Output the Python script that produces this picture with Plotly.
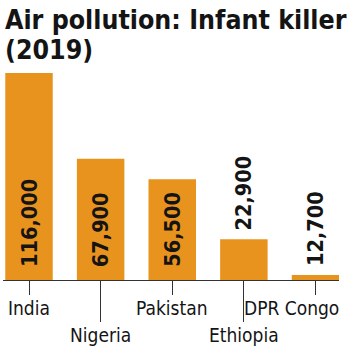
import plotly.graph_objects as go

# ---- data ----
countries = ["India", "Nigeria", "Pakistan", "Ethiopia", "DPR Congo"]
deaths_label = [116000, 67900, 56500, 22900, 12700]      # printed values
bar_heights_drawn = [116000, 67900, 56500, 22900, 2800]  # heights as drawn in the picture
short_tick_countries = ["India", "Pakistan", "DPR Congo"]
long_tick_countries = ["Nigeria", "Ethiopia"]
inside_label = [True, True, True, False, False]

title_line1 = "Air pollution: Infant killer"
title_line2 = "(2019)"

BAR = "#E9931F"
INK = "#141414"
AXIS = "#333333"
FONT = "DejaVu Sans Condensed, Liberation Sans Narrow, Arial Narrow, sans-serif"

fig = go.Figure()
fig.add_trace(go.Bar(
    x=countries, y=bar_heights_drawn, marker=dict(color=BAR, line=dict(width=0)),
    hoverinfo="skip", showlegend=False,
))
# invisible helper trace so the second (long-tick) axis is drawn
fig.add_trace(go.Scatter(
    x=countries, y=[0] * len(countries), xaxis="x2", mode="markers",
    marker=dict(opacity=0), hoverinfo="skip", showlegend=False,
))

annotations = []
# title
annotations.append(dict(text=f"<b>{title_line1}</b>", xref="paper", yref="paper",
                        x=0, y=1, xanchor="left", yanchor="top", yshift=71.5,
                        showarrow=False, font=dict(family=FONT, size=26.5, color=INK)))
annotations.append(dict(text=f"<b>{title_line2}</b>", xref="paper", yref="paper",
                        x=0, y=1, xanchor="left", yanchor="top", yshift=41.5,
                        showarrow=False, font=dict(family=FONT, size=26.5, color=INK)))
# value labels
for c, v, h, inside in zip(countries, deaths_label, bar_heights_drawn, inside_label):
    annotations.append(dict(
        text=f"<b>{v:,}</b>", x=c, xref="x", yref="y",
        y=0 if inside else h, yanchor="bottom", xanchor="center",
        yshift=11 if inside else 7, textangle=-90, showarrow=False,
        font=dict(family=FONT, size=21.5, color=INK)))
# category labels
for c in countries:
    long = c in long_tick_countries
    a = dict(text=c, xref="x", yref="paper", x=c, y=0, yanchor="top",
             xanchor="center", yshift=-42 if long else -15, showarrow=False,
             font=dict(family=FONT, size=19, color=INK))
    if c == "DPR Congo":
        a.update(xref="paper", x=1, xanchor="right", xshift=2)
    annotations.append(a)

fig.update_layout(
    width=347, height=349,
    margin=dict(l=3, r=8, t=73, b=69, pad=0),
    paper_bgcolor="white", plot_bgcolor="white",
    bargap=0.337,
    showlegend=False,
    annotations=annotations,
    xaxis=dict(type="category", categoryorder="array", categoryarray=countries,
               range=[-0.363, 4.328], showgrid=False, zeroline=False,
               showline=True, linecolor=AXIS, linewidth=1,
               ticks="outside", ticklen=14, tickwidth=1, tickcolor=AXIS,
               tickmode="array", tickvals=short_tick_countries,
               showticklabels=False, fixedrange=True),
    xaxis2=dict(type="category", overlaying="x", matches="x", anchor="y", side="bottom",
                categoryorder="array", categoryarray=countries,
                showgrid=False, zeroline=False, showline=False,
                ticks="outside", ticklen=41, tickwidth=1, tickcolor=AXIS,
                tickmode="array", tickvals=long_tick_countries,
                showticklabels=False, fixedrange=True),
    yaxis=dict(range=[0, 116000], visible=False, fixedrange=True),
)

fig.write_html("out.html", config={"displayModeBar": False})
